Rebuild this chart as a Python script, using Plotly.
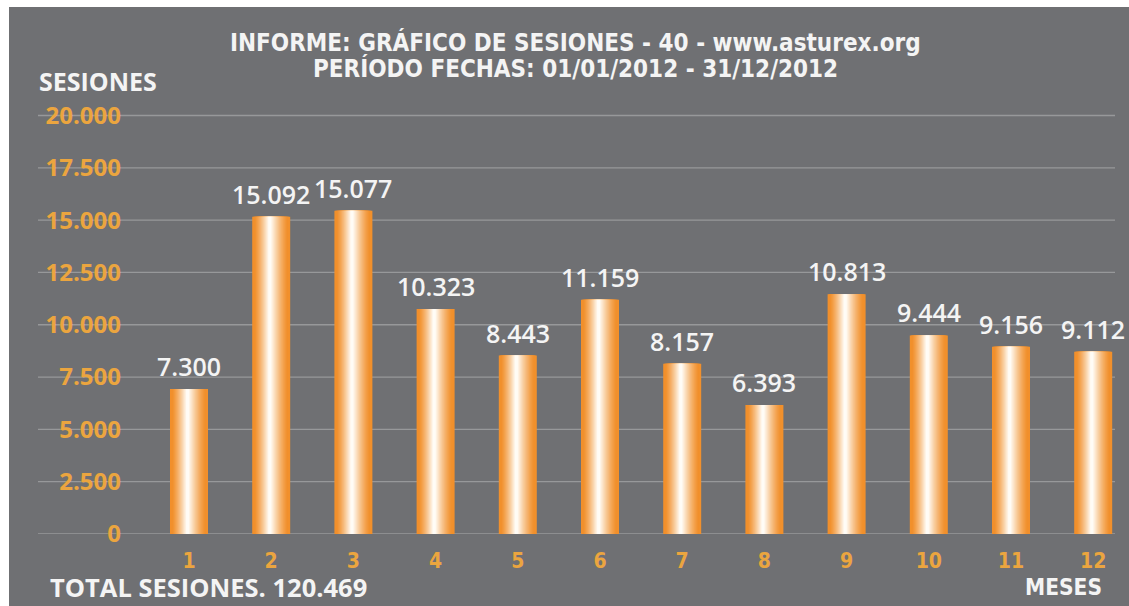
import plotly.graph_objects as go

# ---------------- data ----------------
months = [1, 2, 3, 4, 5, 6, 7, 8, 9, 10, 11, 12]
# printed values above each bar
session_labels = [7300, 15092, 15077, 10323, 8443, 11159, 8157, 6393, 10813, 9444, 9156, 9112]
# heights of the bars as drawn in the picture
bar_heights = [6930, 15160, 15450, 10750, 8530, 11190, 8140, 6160, 11460, 9490, 8950, 8710]
y_ticks = [0, 2500, 5000, 7500, 10000, 12500, 15000, 17500, 20000]

title_1 = "INFORME: GRÁFICO DE SESIONES - 40 - www.asturex.org"
title_2 = "PERÍODO FECHAS: 01/01/2012 - 31/12/2012"
y_title = "SESIONES"
x_title = "MESES"

def fmt(v):
    return f"{v:,}".replace(",", ".")

total_text = "TOTAL SESIONES. " + fmt(sum(session_labels))

# ---------------- layout geometry (pixels) ----------------
W_PX, H_PX = 1129, 606
PL, PR, PT, PB = 125, 1129, 100, 534
PX_PER_UNIT_Y = (534 - 115.5) / 20000.0
X1_PX, X_STEP_PX = 189.0, 82.2

def xp(px):
    return (px - PL) / (PR - PL)

def yp(py):
    return (PB - py) / (PB - PT)

x_range = [1 + (PL - X1_PX) / X_STEP_PX, 1 + (PR - X1_PX) / X_STEP_PX]
y_range = [0, (PB - PT) / PX_PER_UNIT_Y]

BG = "#6f7073"
GRID = "#97989a"
ORANGE_TXT = "#eba53f"
WHITE_TXT = "#f4f4f4"
NARROW = "Liberation Sans Narrow, DejaVu Sans Condensed, Arial Narrow, sans-serif"
SANS = "Open Sans, Lato, sans-serif"

fig = go.Figure()

# ---------------- cylinder-like bars: nested layers ----------------
BAR_W = 38 / X_STEP_PX
K = 18
h = -0.04 * BAR_W
orange = (241, 144, 44)
white = (255, 252, 246)
for k in range(K):
    t = k / (K - 1)
    left = -BAR_W / 2 + (h + BAR_W / 2) * t * 0.92
    right = BAR_W / 2 - (BAR_W / 2 - h) * t * 0.92
    s = max(0.0, (t - 0.12) / 0.88) ** 1.25
    c = tuple(round(orange[i] + (white[i] - orange[i]) * s) for i in range(3))
    fig.add_trace(go.Bar(
        x=months, y=bar_heights,
        offset=left, width=right - left,
        marker=dict(color=f"rgb{c}", line=dict(width=0)),
        hoverinfo="skip", showlegend=False,
    ))

# ---------------- gridlines (extend under the tick labels) ----------------
for v in y_ticks:
    fig.add_shape(type="line", xref="paper", yref="y",
                  x0=xp(38), x1=xp(1115), y0=v, y1=v,
                  line=dict(color=GRID, width=1.3), layer="below")

# white border at top and left of the picture
fig.add_shape(type="rect", xref="paper", yref="paper",
              x0=xp(-5), x1=xp(9), y0=yp(-5), y1=yp(H_PX + 5),
              fillcolor="white", line=dict(width=0), layer="above")
fig.add_shape(type="rect", xref="paper", yref="paper",
              x0=xp(-5), x1=xp(W_PX + 5), y0=yp(-5), y1=yp(7),
              fillcolor="white", line=dict(width=0), layer="above")

# ---------------- value labels above bars ----------------
for m, hgt, lab in zip(months, bar_heights, session_labels):
    fig.add_annotation(x=m, y=hgt, xref="x", yref="y", text=fmt(lab),
                       showarrow=False, yanchor="bottom", yshift=4,
                       font=dict(family=SANS, size=25, color=WHITE_TXT, weight=600))

# ---------------- titles ----------------
fig.add_annotation(x=xp(575), y=yp(42), xref="paper", yref="paper", text=title_1,
                   showarrow=False, xanchor="center", yanchor="middle",
                   font=dict(family=NARROW, size=24, color=WHITE_TXT, weight="bold"))
fig.add_annotation(x=xp(575), y=yp(68), xref="paper", yref="paper", text=title_2,
                   showarrow=False, xanchor="center", yanchor="middle",
                   font=dict(family=NARROW, size=24, color=WHITE_TXT, weight="bold"))
fig.add_annotation(x=xp(37), y=yp(81), xref="paper", yref="paper", text=y_title,
                   showarrow=False, xanchor="left", yanchor="middle",
                   font=dict(family=SANS, size=25, color=WHITE_TXT, weight="bold"))
fig.add_annotation(x=xp(48), y=yp(587), xref="paper", yref="paper", text=total_text,
                   showarrow=False, xanchor="left", yanchor="middle",
                   font=dict(family=SANS, size=25.5, color=WHITE_TXT, weight="bold"))
fig.add_annotation(x=xp(1104), y=yp(587), xref="paper", yref="paper", text=x_title,
                   showarrow=False, xanchor="right", yanchor="middle",
                   font=dict(family=NARROW, size=22.5, color=WHITE_TXT, weight="bold"))

fig.update_layout(
    width=W_PX, height=H_PX,
    margin=dict(l=PL, r=W_PX - PR, t=PT, b=H_PX - PB, pad=0),
    paper_bgcolor=BG, plot_bgcolor=BG,
    barmode="overlay",
    separators=",.",
    showlegend=False,
    xaxis=dict(range=x_range, tickmode="array", tickvals=months,
               ticktext=[str(m) for m in months],
               showgrid=False, zeroline=False, showline=False, ticks="",
               ticklabelstandoff=12,
               tickfont=dict(family=NARROW, size=21, color=ORANGE_TXT, weight="bold"),
               fixedrange=True),
    yaxis=dict(range=y_range, tickmode="array", tickvals=y_ticks, tickformat=",d",
               showgrid=False, zeroline=False, showline=False, ticks="",
               ticklabelstandoff=3,
               tickfont=dict(family=SANS, size=24, color=ORANGE_TXT, weight="bold"),
               fixedrange=True),
)

fig.write_html(
    "out.html",
    config={"displayModeBar": False},
    post_script="document.body.style.margin='0';document.body.style.overflow='hidden';",
)
